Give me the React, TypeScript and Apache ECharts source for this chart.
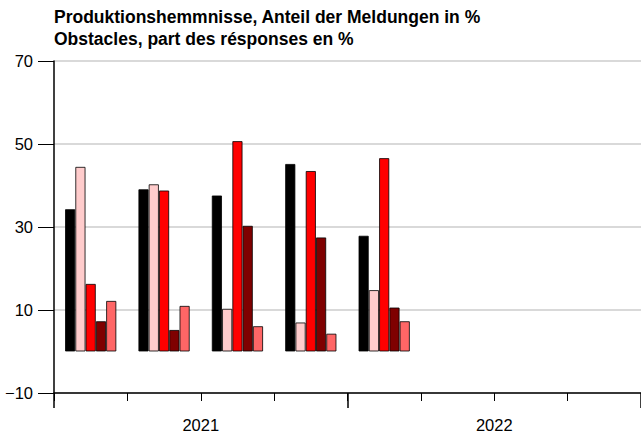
import React, { useEffect, useRef } from "react";
import * as echarts from "echarts";

const quarters = ["2021 Q1", "2021 Q2", "2021 Q3", "2021 Q4", "2022 Q1", "2022 Q2", "2022 Q3", "2022 Q4"];
const years = ["2021", "2022"];
const seriesNames = ["Serie 1", "Serie 2", "Serie 3", "Serie 4", "Serie 5"];
const seriesColors = ["#000000", "#ffcccc", "#ff0000", "#7f0000", "#ff6666"];
const s1 = [34.3, 39.1, 37.6, 45.2, 27.9, null, null, null];
const s2 = [44.5, 40.3, 10.3, 7.0, 14.8, null, null, null];
const s3 = [16.3, 38.8, 50.7, 43.5, 46.6, null, null, null];
const s4 = [7.3, 5.2, 30.3, 27.5, 10.6, null, null, null];
const s5 = [12.2, 11.0, 6.1, 4.3, 7.3, null, null, null];
const seriesValues = [s1, s2, s3, s4, s5];
const titleText = "Produktionshemmnisse, Anteil der Meldungen in %\nObstacles, part des résponses en %";

const FONT = "'Liberation Sans', Arial, sans-serif";

export default function App() {
  const ref = useRef<HTMLDivElement>(null);
  useEffect(() => {
    if (!ref.current) return;
    const chart = echarts.init(ref.current, null, { renderer: "svg" });
    chart.setOption({
      animation: false,
      backgroundColor: "#ffffff",
      textStyle: { fontFamily: FONT },
      title: {
        text: titleText,
        left: 54,
        top: 6,
        padding: 0,
        textStyle: { fontSize: 17.5, fontWeight: "bold", color: "#000", lineHeight: 22, fontFamily: FONT },
      },
      grid: { left: 54, right: -1, top: 61, bottom: 41, containLabel: false },
      xAxis: [
        {
          type: "category",
          data: quarters,
          position: "bottom",
          axisLine: { show: true, onZero: false, lineStyle: { color: "#000", width: 1.5 } },
          axisTick: { show: true, interval: 0, length: 8, lineStyle: { color: "#000", width: 1 } },
          axisLabel: { show: false },
          splitLine: { show: false },
        },
        {
          type: "category",
          data: years,
          position: "bottom",
          axisLine: { show: false, onZero: false },
          axisTick: { show: true, length: 15, lineStyle: { color: "#000", width: 1.5 } },
          axisLabel: { show: true, margin: 23, fontSize: 16.5, color: "#000", fontFamily: FONT },
          splitLine: { show: false },
        },
      ],
      yAxis: {
        type: "value",
        min: -10,
        max: 70,
        interval: 20,
        axisLine: { show: true, lineStyle: { color: "#000", width: 1.5 } },
        axisTick: { show: true, length: 16, lineStyle: { color: "#000", width: 1 } },
        axisLabel: {
          margin: 21,
          fontSize: 16.5,
          color: "#000",
          fontFamily: FONT,
          formatter: (v: number) => (v < 0 ? "\u2212" + Math.abs(v) : String(v)),
        },
        splitLine: { show: true, lineStyle: { color: "#cccccc", width: 1.5 } },
      },
      series: seriesValues.map((vals, i) => ({
        name: seriesNames[i],
        type: "bar",
        xAxisIndex: 0,
        data: vals,
        barGap: "0%",
        barCategoryGap: "30%",
        itemStyle: { color: seriesColors[i], borderColor: "rgba(0,0,0,0.8)", borderWidth: 1 },
      })),
    });
    return () => chart.dispose();
  }, []);
  return <div ref={ref} style={{ position: "fixed", left: 0, top: 0, width: 641, height: 434 }} />;
}
